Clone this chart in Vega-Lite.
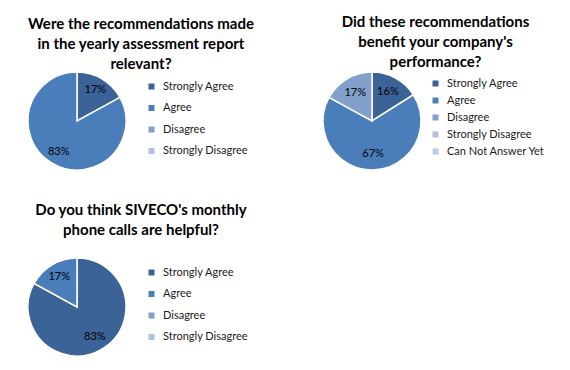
{
  "$schema": "https://vega.github.io/schema/vega-lite/v6.json",
  "padding": {"left": 25, "top": 15, "right": 5, "bottom": 5},
  "background": "white",
  "config": {
    "view": {"stroke": null},
    "font": "Lato",
    "title": {"font": "Lato", "fontSize": 15, "fontWeight": "bold", "color": "#000000", "anchor": "middle", "frame": "bounds", "lineHeight": 20},
    "legend": {"labelFont": "Lato", "labelFontSize": 11, "labelColor": "#1a1a1a", "symbolType": "square", "symbolSize": 36, "symbolStrokeWidth": 0, "labelOffset": 6, "title": null}
  },
  "resolve": {"scale": {"color": "independent"}},
  "spacing": 30,
  "vconcat": [
    {
      "hconcat": [
        {
          "width": 98, "height": 98,
          "title": {"text": ["Were the recommendations made", "in the yearly assessment report", "relevant?"], "offset": -3},
          "data": {"values": [
            {"category": "Strongly Agree", "value": 0.17, "order": 1},
            {"category": "Agree", "value": 0.83, "order": 2}
          ]},
          "encoding": {
            "theta": {"field": "value", "type": "quantitative", "stack": true},
            "order": {"field": "order", "type": "quantitative"},
            "color": {"field": "category", "type": "nominal",
              "scale": {"domain": ["Strongly Agree", "Agree", "Disagree", "Strongly Disagree"], "range": ["#3B6397", "#4A7EBB", "#839FCB", "#B1C1DD"]},
              "legend": {"offset": 11, "padding": 9, "rowPadding": 9.5}}
          },
          "layer": [
            {"mark": {"type": "arc", "stroke": "white", "strokeWidth": 1.5}},
            {"mark": {"type": "text", "radius": 36, "font": "Lato", "fontSize": 11, "color": "#000000"},
             "encoding": {"text": {"field": "value", "type": "quantitative", "format": ".0%"}, "color": {"value": "#000000"}}}
          ]
        },
        {
          "width": 98, "height": 98,
          "title": {"text": ["Did these recommendations", "benefit your company's", "performance?"], "offset": -1},
          "data": {"values": [
            {"category": "Strongly Agree", "value": 0.16, "order": 1},
            {"category": "Agree", "value": 0.67, "order": 2},
            {"category": "Disagree", "value": 0.17, "order": 3}
          ]},
          "encoding": {
            "theta": {"field": "value", "type": "quantitative", "stack": true},
            "order": {"field": "order", "type": "quantitative"},
            "color": {"field": "category", "type": "nominal",
              "scale": {"domain": ["Strongly Agree", "Agree", "Disagree", "Strongly Disagree", "Can Not Answer Yet"], "range": ["#3B6397", "#4A7EBB", "#839FCB", "#B1C1DD", "#BCCCE4"]},
              "legend": {"offset": 3, "padding": 6, "rowPadding": 5}}
          },
          "layer": [
            {"mark": {"type": "arc", "stroke": "white", "strokeWidth": 1.5}},
            {"mark": {"type": "text", "radius": 33, "font": "Lato", "fontSize": 11, "color": "#000000"},
             "encoding": {"text": {"field": "value", "type": "quantitative", "format": ".0%"}, "color": {"value": "#000000"}}}
          ]
        }
      ],
      "spacing": 63,
      "resolve": {"scale": {"color": "independent"}}
    },
    {
      "width": 98, "height": 98,
      "title": {"text": ["Do you think SIVECO's monthly", "phone calls are helpful?"], "offset": 17},
      "data": {"values": [
        {"category": "Strongly Agree", "value": 0.83, "order": 1},
        {"category": "Agree", "value": 0.17, "order": 2}
      ]},
      "encoding": {
        "theta": {"field": "value", "type": "quantitative", "stack": true},
        "order": {"field": "order", "type": "quantitative"},
        "color": {"field": "category", "type": "nominal",
          "scale": {"domain": ["Strongly Agree", "Agree", "Disagree", "Strongly Disagree"], "range": ["#3B6397", "#4A7EBB", "#839FCB", "#B1C1DD"]},
          "legend": {"offset": 11, "padding": 9, "rowPadding": 9.5}}
      },
      "layer": [
        {"mark": {"type": "arc", "stroke": "white", "strokeWidth": 1.5}},
        {"mark": {"type": "text", "radius": 35, "font": "Lato", "fontSize": 11, "color": "#000000"},
         "encoding": {"text": {"field": "value", "type": "quantitative", "format": ".0%"}, "color": {"value": "#000000"}}}
      ]
    }
  ]
}
